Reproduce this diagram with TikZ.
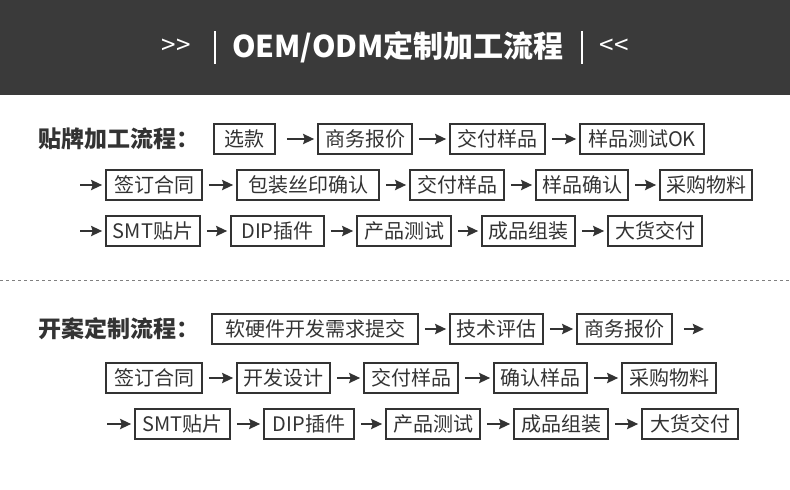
\documentclass[tikz,border=0pt]{standalone}
\usepackage{fontspec}
\setmainfont{Noto Sans CJK SC}
\usetikzlibrary{arrows.meta}
\definecolor{ink}{HTML}{333333}
\definecolor{hdr}{HTML}{3A3A3A}
\newcommand\bx[5]{\node[box,minimum width={#3-#2}] (#1) at ({(#2+#3)/2},#4) {#5};}
\newcommand\ar[2]{\draw[arr] (#1.east) -- (#2.west);}
\begin{document}
\begin{tikzpicture}[x=1pt,y=-1pt,
  box/.style={draw=ink,line width=1.6pt,text=ink,minimum height=30pt,inner sep=0pt,font=\fontsize{20}{20}\selectfont},
  arr/.style={draw=ink,line width=2.6pt,-{Stealth[length=11pt,width=10pt,inset=1.5pt]},shorten <=6pt,shorten >=3pt},
  lab/.style={text=ink,font=\fontsize{23}{23}\selectfont\bfseries,anchor=west,inner sep=0pt}]
\useasboundingbox (0,0) rectangle (790,490);
\fill[hdr] (0,0) rectangle (790,95);
\node[text=white,font=\fontsize{30}{30}\selectfont\bfseries] (t) at (398,47) {OEM/ODM定制加工流程};
\node[text=white,font=\fontsize{26}{26}\selectfont] (l) at (176,47) {{>}{>}};
\node[text=white,font=\fontsize{26}{26}\selectfont] (r) at (614,47) {{<}{<}};
\draw[white,line width=1.2pt] (215,31) -- (215,64) (582,31) -- (582,64);
% section 1
\node[lab] (s1) at (38,139) {贴牌加工流程：};
\bx{a1}{214}{275}{139}{选款}
\bx{a2}{318}{412}{139}{商务报价}
\bx{a3}{450}{545}{139}{交付样品}
\bx{a4}{580}{704}{139}{样品测试OK}
\draw[arr,shorten <=11pt] (a1.east) -- (a2.west);
\ar{a2}{a3}\ar{a3}{a4}
\coordinate (b0) at (80,185);
\bx{b1}{106}{202}{185}{签订合同}
\bx{b2}{237}{379}{185}{包装丝印确认}
\bx{b3}{410}{504}{185}{交付样品}
\bx{b4}{536}{628}{185}{样品确认}
\bx{b5}{660}{752}{185}{采购物料}
\draw[arr,shorten <=0pt] (b0) -- (b1.west);
\ar{b1}{b2}\ar{b2}{b3}\ar{b3}{b4}\ar{b4}{b5}
\coordinate (c0) at (80,231);
\bx{c1}{106}{200}{231}{SMT贴片}
\bx{c2}{231}{324}{231}{DIP插件}
\bx{c3}{357}{451}{231}{产品测试}
\bx{c4}{482}{575}{231}{成品组装}
\bx{c5}{608}{702}{231}{大货交付}
\draw[arr,shorten <=0pt] (c0) -- (c1.west);
\ar{c1}{c2}\ar{c2}{c3}\ar{c3}{c4}\ar{c4}{c5}
\draw[gray,line width=1pt,dash pattern=on 3pt off 3pt] (0,280) -- (790,280);
% section 2
\node[lab] (s2) at (38,329) {开案定制流程：};
\bx{d1}{212}{418}{329}{软硬件开发需求提交}
\bx{d2}{450}{543}{329}{技术评估}
\bx{d3}{577}{672}{329}{商务报价}
\coordinate (d4) at (704,329);
\ar{d1}{d2}\ar{d2}{d3}
\draw[arr,shorten <=11pt,shorten >=0pt] (d3.east) -- (d4);
\bx{e1}{106}{202}{378}{签订合同}
\bx{e2}{237}{330}{378}{开发设计}
\bx{e3}{364}{458}{378}{交付样品}
\bx{e4}{494}{587}{378}{确认样品}
\bx{e5}{622}{716}{378}{采购物料}
\ar{e1}{e2}\ar{e2}{e3}\ar{e3}{e4}\ar{e4}{e5}
\coordinate (f0) at (107,424);
\bx{f1}{135}{230}{424}{SMT贴片}
\bx{f2}{264}{354}{424}{DIP插件}
\bx{f3}{386}{480}{424}{产品测试}
\bx{f4}{514}{608}{424}{成品组装}
\bx{f5}{642}{738}{424}{大货交付}
\draw[arr,shorten <=0pt] (f0) -- (f1.west);
\ar{f1}{f2}\ar{f2}{f3}\ar{f3}{f4}\ar{f4}{f5}
\end{tikzpicture}
\end{document}
